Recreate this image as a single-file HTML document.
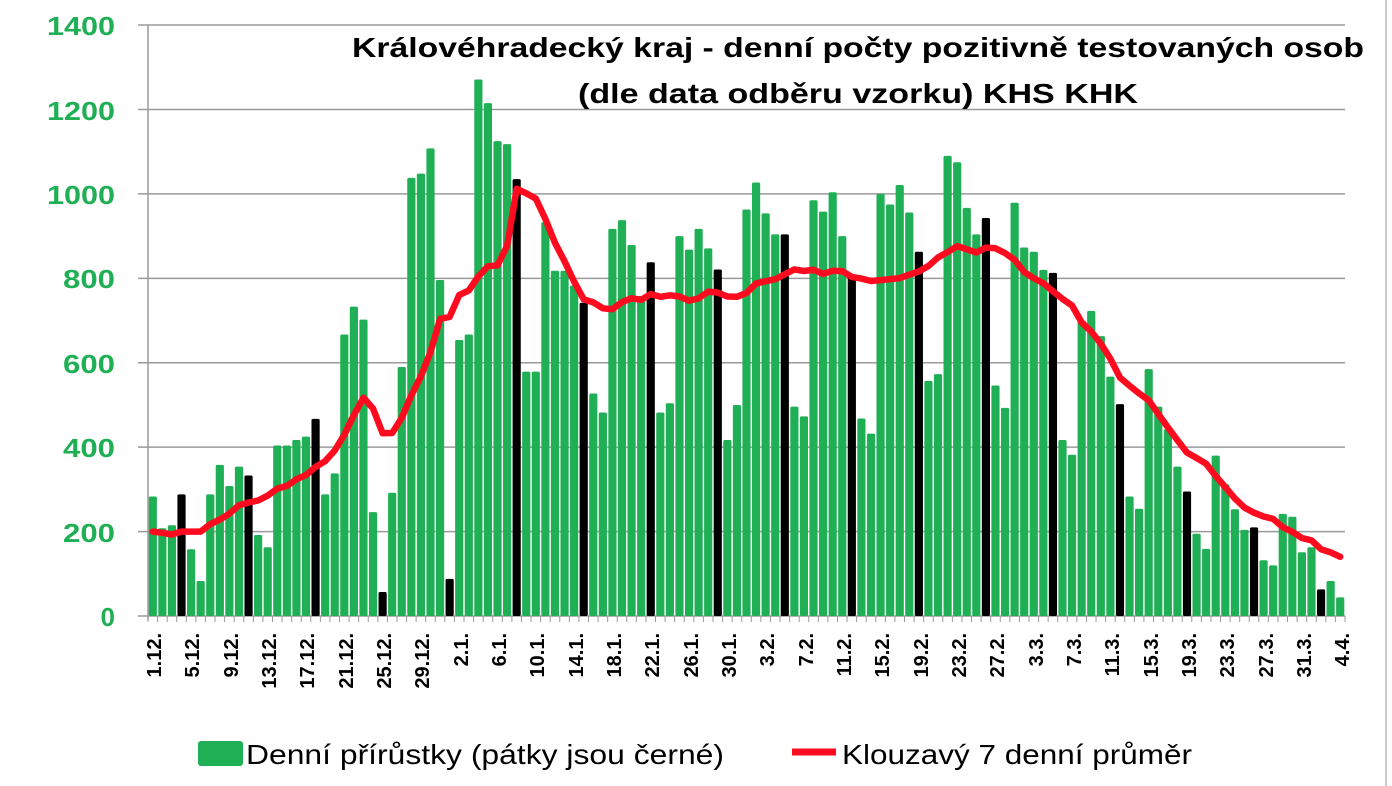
<!DOCTYPE html>
<html><head><meta charset="utf-8"><style>
html,body{margin:0;padding:0;background:#fff;}
svg{display:block;}
text{font-family:"Liberation Sans",sans-serif;}
</style></head><body>
<svg id="c" width="1392" height="786" viewBox="0 0 1392 786" xmlns="http://www.w3.org/2000/svg">
<rect x="0" y="0" width="1392" height="786" fill="#fff"/>
<line x1="1386" y1="0" x2="1386" y2="786" stroke="#bbb" stroke-width="1.5"/>
<g id="grid" stroke="#9a9a9a" stroke-width="1.5"></g>
<g id="bars"></g>
<g id="ticks" stroke="#9a9a9a" stroke-width="1"></g>
<line x1="148" y1="25" x2="148" y2="620" stroke="#9a9a9a" stroke-width="1.5"/>
<polyline id="ma" fill="none" stroke="#ff0a1e" stroke-width="6.5" stroke-linejoin="round" stroke-linecap="round"/>
<g fill="#1faf55" font-weight="bold" font-size="26" text-anchor="end">
<text x="115" y="626">0</text>
<text x="115" y="542" textLength="52" lengthAdjust="spacingAndGlyphs">200</text>
<text x="115" y="457" textLength="52" lengthAdjust="spacingAndGlyphs">400</text>
<text x="115" y="373" textLength="52" lengthAdjust="spacingAndGlyphs">600</text>
<text x="115" y="288" textLength="52" lengthAdjust="spacingAndGlyphs">800</text>
<text x="115" y="204" textLength="68" lengthAdjust="spacingAndGlyphs">1000</text>
<text x="115" y="120" textLength="68" lengthAdjust="spacingAndGlyphs">1200</text>
<text x="115" y="35" textLength="68" lengthAdjust="spacingAndGlyphs">1400</text>
</g>
<g font-weight="bold" font-size="28" fill="#000" text-anchor="middle">
<text x="858" y="57" textLength="1012" lengthAdjust="spacingAndGlyphs">Královéhradecký kraj - denní počty pozitivně testovaných osob</text>
<text x="858" y="103" textLength="560" lengthAdjust="spacingAndGlyphs">(dle data odběru vzorku)  KHS KHK</text>
</g>
<g font-weight="bold" font-size="20" fill="#000" text-anchor="end">
<text transform="translate(161,633) rotate(-90)">1.12.</text>
<text transform="translate(199,633) rotate(-90)">5.12.</text>
<text transform="translate(238,633) rotate(-90)">9.12.</text>
<text transform="translate(276,633) rotate(-90)">13.12.</text>
<text transform="translate(314,633) rotate(-90)">17.12.</text>
<text transform="translate(353,633) rotate(-90)">21.12.</text>
<text transform="translate(391,633) rotate(-90)">25.12.</text>
<text transform="translate(429,633) rotate(-90)">29.12.</text>
<text transform="translate(468,633) rotate(-90)">2.1.</text>
<text transform="translate(506,633) rotate(-90)">6.1.</text>
<text transform="translate(544,633) rotate(-90)">10.1.</text>
<text transform="translate(583,633) rotate(-90)">14.1.</text>
<text transform="translate(621,633) rotate(-90)">18.1.</text>
<text transform="translate(659,633) rotate(-90)">22.1.</text>
<text transform="translate(698,633) rotate(-90)">26.1.</text>
<text transform="translate(736,633) rotate(-90)">30.1.</text>
<text transform="translate(774,633) rotate(-90)">3.2.</text>
<text transform="translate(813,633) rotate(-90)">7.2.</text>
<text transform="translate(851,633) rotate(-90)">11.2.</text>
<text transform="translate(889,633) rotate(-90)">15.2.</text>
<text transform="translate(928,633) rotate(-90)">19.2.</text>
<text transform="translate(966,633) rotate(-90)">23.2.</text>
<text transform="translate(1004,633) rotate(-90)">27.2.</text>
<text transform="translate(1043,633) rotate(-90)">3.3.</text>
<text transform="translate(1081,633) rotate(-90)">7.3.</text>
<text transform="translate(1119,633) rotate(-90)">11.3.</text>
<text transform="translate(1158,633) rotate(-90)">15.3.</text>
<text transform="translate(1196,633) rotate(-90)">19.3.</text>
<text transform="translate(1234,633) rotate(-90)">23.3.</text>
<text transform="translate(1273,633) rotate(-90)">27.3.</text>
<text transform="translate(1311,633) rotate(-90)">31.3.</text>
<text transform="translate(1349,633) rotate(-90)">4.4.</text>
</g>
<rect x="198" y="741" width="45" height="25" rx="3" fill="#1faf55"/>
<text x="246" y="764" font-size="28" fill="#000" textLength="478" lengthAdjust="spacingAndGlyphs">Denní přírůstky (pátky jsou černé)</text>
<line x1="792" y1="752" x2="836" y2="752" stroke="#ff0a1e" stroke-width="7"/>
<text x="842" y="764" font-size="28" fill="#000" textLength="350" lengthAdjust="spacingAndGlyphs">Klouzavý 7 denní průměr</text>
</svg>
<script>
var d=[283,208,215,288,158,83,288,358,308,354,333,192,163,404,404,417,425,467,288,338,667,733,702,246,57,292,590,1038,1048,1108,796,
88,654,667,1271,1215,1125,1118,1035,579,579,933,818,818,783,742,527,482,917,938,879,758,838,482,504,900,868,917,871,821,417,500,
963,1027,954,904,904,496,473,985,958,1004,900,808,468,432,1000,975,1021,956,863,557,573,1090,1075,967,904,943,546,493,
979,873,863,820,813,417,382,700,723,663,567,502,283,254,585,496,442,354,295,195,159,380,312,253,204,210,132,120,242,235,151,
163,63,83,44];
var ns="http://www.w3.org/2000/svg";
function el(t,a,p){var e=document.createElementNS(ns,t);for(var k in a)e.setAttribute(k,a[k]);p.appendChild(e);return e;}
var X0=148,W=9.576,Y0=616,S=0.4221;
var g=document.getElementById('grid');
for(var v=200;v<=1400;v+=200){var y=Y0-v*S;el('line',{x1:138,y1:y,x2:1345,y2:y},g);}
el('line',{x1:138,y1:Y0,x2:1345,y2:Y0},g);
var b=document.getElementById('bars'),tk=document.getElementById('ticks');
for(var i=0;i<d.length;i++){
 var x=X0+W*i+0.7,h=d[i]*S;
 el('rect',{x:x,y:Y0-h,width:W-1.4,height:h,fill:(i%7==3)?'#000':'#1faf55',rx:1.5},b);
 el('line',{x1:X0+W*i,y1:Y0,x2:X0+W*i,y2:Y0+6},tk);
}
el('line',{x1:1345,y1:Y0,x2:1345,y2:Y0+6},tk);
var ma=[200,197,193,200,200,200];
for(var i=6;i<d.length;i++){var s=0;for(var j=i-6;j<=i;j++)s+=d[j];ma.push(s/7);}
var pts=[];for(var i=0;i<ma.length;i++)pts.push((X0+W*(i+0.5)).toFixed(1)+','+(Y0-ma[i]*S).toFixed(1));
document.getElementById('ma').setAttribute('points',pts.join(' '));
</script>
</body></html>
